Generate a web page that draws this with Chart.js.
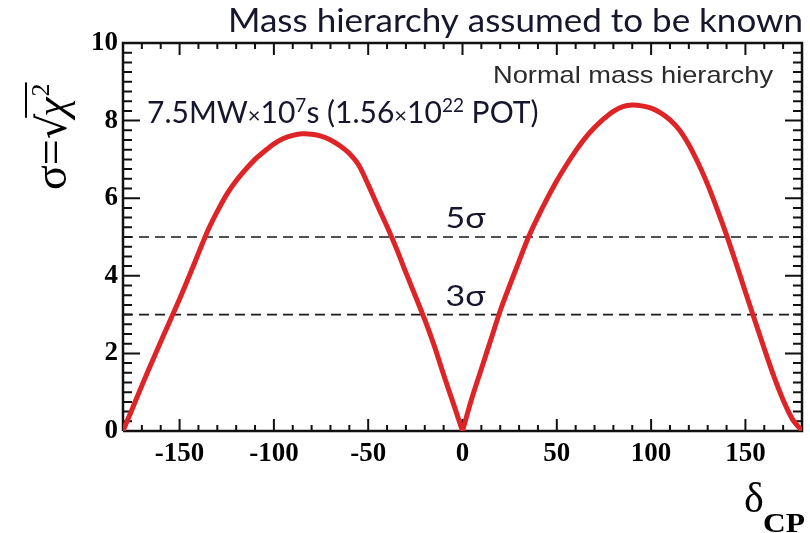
<!DOCTYPE html>
<html>
<head>
<meta charset="utf-8">
<script src="https://cdn.jsdelivr.net/npm/chart.js@4.4.1/dist/chart.umd.min.js"></script>
<style>
  html, body { margin: 0; padding: 0; background: #fff; }
  #wrap { width: 810px; height: 533px; }
</style>
</head>
<body>
<div id="wrap"><canvas id="c" width="810" height="533"></canvas></div>
<script>
// delta_CP (deg) and sqrt(chi2); split at the cusp at 0
const leftDelta = [-180, -175, -170, -165, -160, -155, -150, -145, -140, -135, -130, -125, -120, -115, -110, -105, -100, -95, -90, -85, -80, -75, -70, -65, -60, -55, -50, -45, -40, -35, -30, -25, -20, -15, -10, -5, 0];
const leftSigma = [0, 0.58, 1.17, 1.74, 2.3, 2.85, 3.4, 3.98, 4.58, 5.17, 5.66, 6.1, 6.45, 6.74, 7.0, 7.21, 7.4, 7.54, 7.62, 7.66, 7.65, 7.6, 7.5, 7.35, 7.15, 6.85, 6.35, 5.8, 5.27, 4.7, 4.08, 3.48, 2.87, 2.2, 1.45, 0.73, 0];
const rightDelta = [0, 5, 10, 15, 20, 25, 30, 35, 40, 45, 50, 55, 60, 65, 70, 75, 80, 85, 90, 95, 100, 105, 110, 115, 120, 125, 130, 135, 140, 145, 150, 155, 160, 165, 170, 175, 180];
const rightSigma = [0, 0.85, 1.6, 2.35, 3.1, 3.75, 4.38, 5.0, 5.52, 6.0, 6.45, 6.85, 7.22, 7.55, 7.82, 8.05, 8.24, 8.36, 8.4, 8.38, 8.32, 8.2, 8.02, 7.76, 7.38, 6.9, 6.35, 5.72, 5.05, 4.33, 3.58, 2.85, 2.12, 1.42, 0.8, 0.3, 0];

const sigmaLevels = [3, 5];
const sigmaLabels = ['3σ', '5σ'];

const xTickValues = [-150, -100, -50, 0, 50, 100, 150];
const yTickValues = [0, 2, 4, 6, 8, 10];

const xMin = -180, xMax = 180, yMin = 0, yMax = 10;

const toPoints = (xs, ys) => xs.map((x, i) => ({ x: x, y: ys[i] }));

const red = 'rgb(222,36,38)';

const curveStyle = {
  borderColor: red,
  borderWidth: 5,
  pointRadius: 0,
  tension: 0.3,
  fill: false,
  borderCapStyle: 'round',
  borderJoinStyle: 'round'
};

const datasets = [
  Object.assign({ data: toPoints(leftDelta, leftSigma) }, curveStyle),
  Object.assign({ data: toPoints(rightDelta, rightSigma) }, curveStyle)
];
sigmaLevels.forEach(lv => {
  datasets.push({
    data: [{ x: xMin, y: lv }, { x: xMax, y: lv }],
    borderColor: '#1a1a1a',
    borderWidth: 1.6,
    borderDash: [10, 6],
    pointRadius: 0,
    tension: 0
  });
});

// ROOT-style frame and inward ticks, drawn as line segments through the scales
const pxPerX = 679 / 360, pxPerY = 388 / 10;
const tickPts = [];
for (let v = xMin; v <= xMax; v += 10) {
  const len = (Math.abs(v) % 50 === 0 ? 12 : 6) / pxPerY;
  tickPts.push({ x: v, y: yMin }, { x: v, y: yMin + len }, { x: v, y: null });
  tickPts.push({ x: v, y: yMax }, { x: v, y: yMax - len }, { x: v, y: null });
}
for (let k = 0; k <= 40; k++) {
  const w = yMin + k * 0.25;
  const len = (k % 8 === 0 ? 17 : 9) / pxPerX;
  tickPts.push({ x: xMin, y: w }, { x: xMin + len, y: w }, { x: xMin, y: null });
  tickPts.push({ x: xMax, y: w }, { x: xMax - len, y: w }, { x: xMax, y: null });
}
datasets.push({
  data: tickPts,
  borderColor: '#111',
  borderWidth: 2,
  borderCapStyle: 'butt',
  pointRadius: 0,
  tension: 0,
  spanGaps: false,
  clip: false
});
datasets.push({
  data: [{ x: xMin, y: yMin }, { x: xMax, y: yMin }, { x: xMax, y: yMax }, { x: xMin, y: yMax }, { x: xMin, y: yMin }],
  borderColor: '#111',
  borderWidth: 2.5,
  borderJoinStyle: 'miter',
  pointRadius: 0,
  tension: 0,
  clip: false
});

// draw text stretched horizontally to a target width
function fitText(ctx, text, x, y, width) {
  const w = ctx.measureText(text).width;
  ctx.save();
  ctx.translate(x, y);
  ctx.scale(width / w, 1);
  ctx.textAlign = 'left';
  ctx.fillText(text, 0, 0);
  ctx.restore();
}

const annotations = {
  id: 'annotations',
  afterDraw(chart) {
    const { ctx, scales } = chart;
    const xs = scales.x, ys = scales.y;
    const ink = '#16162c';
    ctx.save();
    ctx.fillStyle = ink;
    ctx.textBaseline = 'alphabetic';

    // title
    ctx.font = '33px Lato';
    fitText(ctx, 'Mass hierarchy assumed to be known', 228, 32, 575);

    // hierarchy tag
    ctx.font = '24px "Liberation Sans"';
    ctx.fillStyle = '#2b2b2b';
    fitText(ctx, 'Normal mass hierarchy', 493, 83, 280);

    // exposure line with superscripts
    ctx.fillStyle = ink;
    ctx.textAlign = 'left';
    const big = '30px Lato', small = '19px Lato', times = '22px Lato';
    const parts = [
      ['7.5MW', big, 0], ['×', times, 0], ['10', big, 0], ['7', small, -11],
      ['s (1.56', big, 0], ['×', times, 0], ['10', big, 0], ['22', small, -11], [' POT)', big, 0]
    ];
    let x = 147;
    parts.forEach(([t, f, dy]) => {
      ctx.font = f;
      ctx.fillText(t, x, 123 + dy);
      x += ctx.measureText(t).width;
    });

    // sigma level labels, just above their dashed lines
    ctx.font = '28px Lato';
    sigmaLevels.forEach((lv, i) => {
      fitText(ctx, sigmaLabels[i], xs.getPixelForValue(-9), ys.getPixelForValue(lv) - 9, 40);
    });

    // y axis title: sigma = sqrt(chi^2), rotated
    ctx.save();
    ctx.translate(66, 190);
    ctx.rotate(-Math.PI / 2);
    ctx.fillStyle = '#000';
    ctx.font = '46px "Liberation Serif"';
    let u = 0;
    ctx.fillText('σ', u, 0); u += ctx.measureText('σ').width;
    ctx.fillText('=', u, 0); u += ctx.measureText('=').width;
    ctx.font = '40px "DejaVu Serif"';
    ctx.fillText('√', u, 0); u += ctx.measureText('√').width - 3;
    const barStart = u;
    ctx.font = 'italic 44px "Liberation Serif"';
    ctx.fillText('χ', u, 0); u += ctx.measureText('χ').width + 1;
    ctx.font = '26px "Liberation Serif"';
    ctx.fillText('2', u, -17); u += ctx.measureText('2').width;
    ctx.fillRect(barStart - 1, -41, u - barStart + 2, 2);
    ctx.restore();

    // x axis title: delta_CP
    ctx.fillStyle = '#000';
    ctx.font = '42px "Liberation Serif"';
    ctx.fillText('δ', 744, 512);
    ctx.font = 'bold 27px "Liberation Serif"';
    fitText(ctx, 'CP', 763, 532, 42);

    ctx.restore();
  }
};

new Chart(document.getElementById('c'), {
  type: 'line',
  data: { datasets: datasets },
  options: {
    responsive: false,
    devicePixelRatio: 1,
    animation: false,
    layout: { padding: { top: 43, right: 8, left: 0, bottom: 0 } },
    plugins: { legend: { display: false }, tooltip: { enabled: false } },
    scales: {
      x: {
        type: 'linear',
        min: xMin,
        max: xMax,
        afterBuildTicks: s => { s.ticks = xTickValues.map(v => ({ value: v })); },
        afterFit: s => { s.height = 102; },
        grid: { display: false, drawTicks: false },
        border: { display: false },
        ticks: {
          color: '#000',
          padding: 7,
          maxRotation: 0,
          font: { family: '"Liberation Serif"', weight: 'bold', size: 27 }
        }
      },
      y: {
        type: 'linear',
        min: yMin,
        max: yMax,
        afterBuildTicks: s => { s.ticks = yTickValues.map(v => ({ value: v })); },
        afterFit: s => { s.width = 123; },
        grid: { display: false, drawTicks: false },
        border: { display: false },
        ticks: {
          color: '#000',
          padding: 5,
          font: { family: '"Liberation Serif"', weight: 'bold', size: 27 }
        }
      }
    }
  },
  plugins: [annotations]
});
</script>
</body>
</html>
